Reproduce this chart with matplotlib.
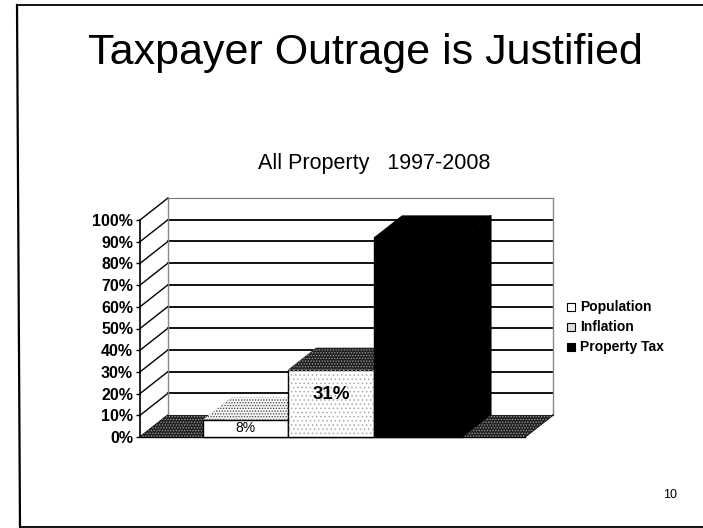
import matplotlib
matplotlib.use('Agg')
import matplotlib.pyplot as plt
from matplotlib.patches import Polygon

plt.rcParams['font.family'] = ['Liberation Sans', 'DejaVu Sans']
plt.rcParams['hatch.linewidth'] = 0.6

title = 'Taxpayer Outrage is Justified'
subtitle = 'All Property   1997-2008'
page_number = '10'

bar_values = [0, 8, 31, 92, 0]
bar_labels = ['', '8%', '31%', '', '']
legend_names = ['Population', 'Inflation', 'Property Tax']
y_ticks = list(range(0, 101, 10))

# layout, in pixels of the 703x528 image
W, H = 703, 528
FLOOR_LEFT, FLOOR_RIGHT = 140, 525
FLOOR_Y = 437
PX_PER_PCT = 2.17
DX = 28
DY_PCT = 22 / PX_PER_PCT
bar_edges = [0, 63, 148, 234, 323, 385]

# front, top colours and hatch colours for each bar
front_face = ['#222222', 'white', 'white', 'black', '#222222']
front_dots = [None, None, '#aaaaaa', None, None]
top_face = ['#222222', '#f4f4f4', '#222222', 'black', '#222222']
top_dots = ['#999999', '#444444', '#999999', None, '#999999']
side_face = ['#222222', 'white', 'white', 'black', '#222222']

fig = plt.figure(figsize=(W / 100, H / 100), dpi=100)
ax = fig.add_axes([FLOOR_LEFT / W, 1 - FLOOR_Y / H,
                   (FLOOR_RIGHT - FLOOR_LEFT) / W, 100 * PX_PER_PCT / H])
ax.set_xlim(0, FLOOR_RIGHT - FLOOR_LEFT)
ax.set_ylim(0, 100)
ax.patch.set_visible(False)
for s in ['top', 'right', 'bottom']:
    ax.spines[s].set_visible(False)
ax.spines['left'].set_linewidth(1.2)
ax.set_xticks([])
ax.set_yticks(y_ticks)
ax.set_yticklabels([str(t) + '%' for t in y_ticks], fontsize=11.5, fontweight='bold')
ax.tick_params(axis='y', length=3, width=1, pad=2)

# walls and gridlines
x_max = FLOOR_RIGHT - FLOOR_LEFT
for t in y_ticks:
    lw = 0.8 if t in (0, 100) else 1.3
    c = '#777777' if t in (0, 100) else 'black'
    ax.plot([DX, x_max + DX], [t + DY_PCT, t + DY_PCT], color=c, lw=lw, clip_on=False, zorder=1)
    ax.plot([0, DX], [t, t + DY_PCT], color='black', lw=1, clip_on=False, zorder=1)
ax.plot([DX, DX], [DY_PCT, 100 + DY_PCT], color='#888888', lw=1, clip_on=False, zorder=1)
ax.plot([x_max + DX, x_max + DX], [DY_PCT, 100 + DY_PCT], color='#888888', lw=1, clip_on=False, zorder=1)
ax.plot([0, x_max], [0, 0], color='black', lw=1, clip_on=False, zorder=1)
ax.plot([x_max, x_max + DX], [0, DY_PCT], color='black', lw=1, clip_on=False, zorder=1)

# bars, left to right so each hides the one behind it
for i, val in enumerate(bar_values):
    x0, x1 = bar_edges[i], bar_edges[i + 1]
    z = 2 + i
    top = Polygon([(x0, val), (x1, val), (x1 + DX, val + DY_PCT), (x0 + DX, val + DY_PCT)],
                  closed=True, facecolor=top_face[i], edgecolor=top_dots[i] or 'black',
                  hatch='......' if top_dots[i] else None, lw=0, zorder=z, clip_on=False)
    ax.add_patch(top)
    side = Polygon([(x1, 0), (x1 + DX, DY_PCT), (x1 + DX, val + DY_PCT), (x1, val)],
                   closed=True, facecolor=side_face[i], edgecolor='black', lw=0.8,
                   zorder=z, clip_on=False)
    if val > 0:
        ax.add_patch(side)
        ax.bar(x0, val, width=x1 - x0, align='edge', color=front_face[i], edgecolor='black',
               lw=1, zorder=z + 0.5, clip_on=False)
        if front_dots[i]:
            ax.bar(x0, val, width=x1 - x0, align='edge', color='none',
                   edgecolor=front_dots[i], hatch='....', lw=0, zorder=z + 0.6, clip_on=False)
    if bar_labels[i]:
        size = 13.5 if val > 20 else 10
        ax.text((x0 + x1) / 2, val * 0.5 if val < 20 else val * 0.63, bar_labels[i],
                ha='center', va='center', fontsize=size,
                fontweight='bold' if val > 20 else 'normal', zorder=20)

# slide text
fig.text(365 / W, 1 - 53 / H, title, ha='center', va='center', fontsize=31)
fig.text(374 / W, 1 - 163 / H, subtitle, ha='center', va='center', fontsize=15.5)
fig.text(677 / W, 1 - 495 / H, page_number, ha='right', va='center', fontsize=9)

# legend drawn by hand to keep the scanned spacing
leg_y = [307, 327, 347]
leg_face = ['white', '#dddddd', 'black']
for name, y, fc in zip(legend_names, leg_y, leg_face):
    fig.patches.append(plt.Rectangle((567 / W, 1 - (y + 4) / H), 8 / W, 8 / H, transform=fig.transFigure,
                                     facecolor=fc, edgecolor='black', lw=0.8))
    fig.text(580 / W, 1 - y / H, name, ha='left', va='center', fontsize=10, fontweight='bold')

# slide border
fig.add_artist(plt.Line2D([17 / W, 20 / W], [1 - 5 / H, 1 - 527 / H], color='black', lw=1.6))
fig.add_artist(plt.Line2D([17 / W, 1], [1 - 5 / H, 1 - 5 / H], color='black', lw=1.3))
fig.add_artist(plt.Line2D([20 / W, 1], [1 - 527 / H, 1 - 527 / H], color='black', lw=1.3))

fig.savefig('out.png', dpi=100)
